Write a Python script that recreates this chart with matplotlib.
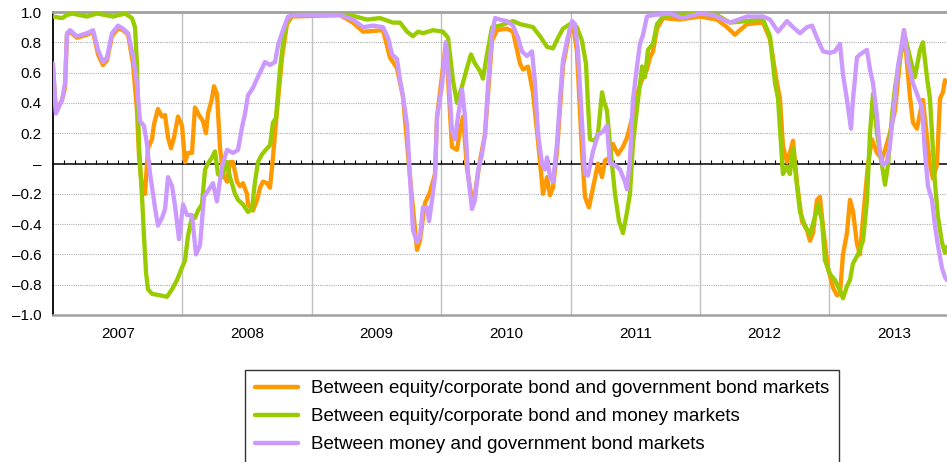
import numpy as np
import matplotlib
matplotlib.use("Agg")
import matplotlib.pyplot as plt

plt.rcParams['font.family'] = ['Liberation Sans', 'DejaVu Sans']

# time in years since 1 Jan 2007
eg_t = [0.000,0.023,0.070,0.093,0.108,0.131,0.185,0.263,0.309,0.348,0.386,0.417,0.456,0.502,0.541,0.580,
        0.618,0.649,0.665,0.688,0.711,0.734,0.765,0.781,0.811,0.842,0.866,0.889,0.912,0.935,0.966,0.997,
        1.020,1.043,1.074,1.097,1.128,1.159,1.182,1.198,1.229,1.244,1.267,1.291,1.314,1.345,1.368,1.391,
        1.422,1.445,1.468,1.499,1.507,1.546,1.577,1.600,1.623,1.654,1.677,1.700,1.716,1.739,1.770,1.808,
        1.847,2.218,2.318,2.396,2.550,2.604,2.658,2.705,2.759,2.813,2.836,2.875,2.913,2.952,2.968,3.037,
        3.083,3.122,3.145,3.169,3.199,3.238,3.261,3.300,3.338,3.393,3.431,3.509,3.555,3.609,3.632,3.671,
        3.709,3.748,3.787,3.818,3.841,3.864,3.895,3.941,3.995,4.018,4.049,4.088,4.111,4.142,4.173,4.212,
        4.243,4.266,4.304,4.327,4.366,4.405,4.436,4.482,4.521,4.560,4.590,4.613,4.637,4.668,4.714,4.845,
        5.000,5.131,5.209,5.270,5.309,5.363,5.487,5.541,5.595,5.618,5.641,5.672,5.695,5.719,5.750,5.788,
        5.827,5.850,5.873,5.904,5.927,5.951,5.989,6.028,6.059,6.082,6.105,6.136,6.159,6.182,6.213,6.236,
        6.260,6.298,6.329,6.368,6.406,6.430,6.468,6.507,6.546,6.577,6.600,6.623,6.646,6.677,6.700,6.723,
        6.754,6.777,6.800,6.831,6.855,6.878,6.893,6.909]
eg_v = [0.62,0.34,0.42,0.50,0.85,0.87,0.83,0.85,0.87,0.72,0.65,0.68,0.84,0.89,0.88,0.85,
        0.66,0.35,0.04,-0.16,-0.20,0.10,0.16,0.26,0.36,0.31,0.32,0.17,0.10,0.17,0.31,0.25,
        0.01,0.07,0.07,0.37,0.32,0.28,0.20,0.33,0.43,0.51,0.46,0.10,-0.07,-0.12,0.01,0.01,
        -0.12,-0.15,-0.13,-0.20,-0.27,-0.31,-0.24,-0.16,-0.12,-0.13,-0.16,0.04,0.20,0.42,0.70,0.92,
        0.97,0.98,0.93,0.87,0.88,0.70,0.63,0.44,-0.09,-0.57,-0.51,-0.26,-0.19,-0.07,0.31,0.80,
        0.11,0.09,0.22,0.31,-0.03,-0.24,-0.20,0.02,0.19,0.81,0.88,0.89,0.87,0.66,0.62,0.64,
        0.47,0.15,-0.20,-0.09,-0.21,-0.16,0.08,0.64,0.89,0.92,0.74,0.08,-0.22,-0.29,-0.16,0.00,
        -0.09,0.02,0.04,0.13,0.06,0.11,0.17,0.32,0.48,0.57,0.62,0.70,0.74,0.89,0.96,0.95,
        0.97,0.95,0.90,0.85,0.88,0.92,0.93,0.82,0.53,0.43,0.12,0.01,0.07,0.15,-0.13,-0.38,
        -0.44,-0.51,-0.46,-0.24,-0.22,-0.42,-0.69,-0.82,-0.87,-0.86,-0.60,-0.46,-0.24,-0.31,-0.53,-0.60,
        -0.36,-0.01,0.16,0.07,0.03,0.09,0.20,0.35,0.68,0.88,0.66,0.44,0.27,0.23,0.33,0.42,
        0.17,-0.01,-0.10,-0.01,0.43,0.47,0.55,0.54]

em_t = [0.000,0.070,0.108,0.147,0.263,0.340,0.464,0.556,0.610,0.634,0.649,0.665,0.688,0.703,0.719,0.734,
        0.765,0.827,0.881,0.920,0.958,0.981,1.020,1.043,1.074,1.097,1.121,1.151,1.175,1.198,1.229,1.252,
        1.275,1.306,1.345,1.368,1.406,1.430,1.468,1.507,1.538,1.561,1.584,1.615,1.654,1.677,1.700,1.723,
        1.754,1.777,1.808,1.847,2.295,2.427,2.527,2.627,2.682,2.736,2.782,2.821,2.859,2.937,3.014,3.053,
        3.091,3.122,3.161,3.199,3.230,3.261,3.300,3.323,3.354,3.393,3.454,3.555,3.609,3.663,3.709,3.764,
        3.818,3.864,3.903,3.941,3.995,4.049,4.088,4.119,4.134,4.150,4.188,4.212,4.243,4.258,4.281,4.304,
        4.343,4.374,4.405,4.436,4.459,4.482,4.521,4.552,4.575,4.598,4.637,4.668,4.714,4.822,5.000,5.131,
        5.232,5.363,5.487,5.541,5.580,5.603,5.641,5.672,5.695,5.719,5.750,5.773,5.811,5.850,5.889,5.912,
        5.943,5.966,6.005,6.043,6.082,6.105,6.136,6.159,6.182,6.221,6.260,6.290,6.314,6.337,6.368,6.406,
        6.430,6.453,6.484,6.507,6.546,6.584,6.623,6.661,6.700,6.723,6.754,6.777,6.816,6.839,6.870,6.893,
        6.909]
em_v = [0.97,0.96,0.98,0.99,0.97,0.99,0.97,0.99,0.96,0.90,0.65,0.11,-0.22,-0.48,-0.72,-0.83,
        -0.86,-0.87,-0.88,-0.83,-0.77,-0.72,-0.64,-0.48,-0.35,-0.36,-0.31,-0.27,-0.04,0.00,0.04,0.08,
        -0.07,-0.09,0.01,-0.09,-0.20,-0.24,-0.27,-0.32,-0.30,-0.12,0.01,0.06,0.10,0.12,0.27,0.30,
        0.62,0.79,0.94,0.98,0.98,0.95,0.96,0.93,0.93,0.87,0.84,0.87,0.86,0.88,0.87,0.83,
        0.55,0.40,0.51,0.63,0.72,0.66,0.61,0.56,0.72,0.90,0.91,0.94,0.92,0.91,0.90,0.84,
        0.77,0.76,0.83,0.89,0.92,0.90,0.81,0.66,0.40,0.16,0.15,0.20,0.47,0.41,0.35,0.13,
        -0.20,-0.38,-0.46,-0.32,-0.20,0.13,0.42,0.64,0.57,0.75,0.79,0.92,0.97,0.98,0.99,0.98,
        0.93,0.94,0.95,0.84,0.53,0.43,-0.07,-0.02,-0.07,0.10,-0.15,-0.32,-0.41,-0.47,-0.35,-0.27,
        -0.38,-0.64,-0.73,-0.77,-0.84,-0.89,-0.81,-0.77,-0.66,-0.60,-0.51,-0.25,0.20,0.46,0.20,-0.01,
        -0.14,-0.01,0.32,0.50,0.70,0.84,0.70,0.57,0.75,0.80,0.57,0.43,-0.13,-0.35,-0.52,-0.59,
        -0.55]

mg_t = [0.000,0.023,0.070,0.093,0.108,0.131,0.185,0.263,0.309,0.348,0.386,0.417,0.456,0.502,0.541,0.580,
        0.618,0.649,0.672,0.703,0.726,0.750,0.773,0.788,0.811,0.842,0.866,0.889,0.920,0.943,0.974,1.005,
        1.036,1.074,1.105,1.136,1.167,1.198,1.236,1.267,1.306,1.345,1.391,1.430,1.461,1.484,1.507,1.546,
        1.577,1.600,1.638,1.677,1.716,1.739,1.777,1.816,1.909,2.218,2.318,2.396,2.473,2.550,2.589,2.620,
        2.658,2.682,2.705,2.736,2.759,2.782,2.813,2.836,2.859,2.890,2.906,2.929,2.952,2.968,3.006,3.037,
        3.053,3.083,3.107,3.130,3.161,3.184,3.207,3.238,3.261,3.284,3.315,3.338,3.362,3.393,3.416,3.454,
        3.509,3.555,3.594,3.624,3.663,3.702,3.725,3.748,3.779,3.802,3.818,3.841,3.864,3.895,3.918,3.941,
        3.972,4.011,4.034,4.057,4.088,4.111,4.134,4.173,4.212,4.250,4.281,4.304,4.343,4.382,4.420,4.436,
        4.459,4.482,4.513,4.536,4.560,4.590,4.637,4.768,4.861,5.000,5.100,5.232,5.363,5.487,5.541,5.603,
        5.672,5.719,5.773,5.827,5.866,5.904,5.951,6.005,6.043,6.082,6.105,6.136,6.167,6.182,6.213,6.236,
        6.290,6.314,6.337,6.368,6.391,6.414,6.445,6.468,6.491,6.530,6.577,6.607,6.646,6.685,6.716,6.739,
        6.762,6.793,6.816,6.839,6.870,6.893,6.909]
mg_v = [0.66,0.33,0.42,0.53,0.86,0.88,0.84,0.86,0.88,0.75,0.67,0.70,0.86,0.91,0.89,0.86,
        0.71,0.53,0.28,0.25,0.13,-0.07,-0.20,-0.29,-0.41,-0.36,-0.30,-0.09,-0.15,-0.28,-0.50,-0.27,
        -0.34,-0.34,-0.60,-0.54,-0.22,-0.18,-0.13,-0.25,-0.02,0.09,0.07,0.09,0.24,0.33,0.45,0.50,
        0.56,0.60,0.67,0.65,0.67,0.78,0.88,0.97,0.98,0.98,0.95,0.90,0.91,0.90,0.83,0.72,
        0.69,0.55,0.44,0.26,-0.09,-0.44,-0.52,-0.48,-0.29,-0.29,-0.38,-0.24,-0.09,0.31,0.51,0.80,
        0.64,0.22,0.16,0.31,0.49,0.31,-0.07,-0.30,-0.24,-0.05,0.06,0.19,0.52,0.85,0.96,0.95,
        0.94,0.91,0.83,0.74,0.71,0.74,0.53,0.20,0.00,-0.04,0.04,-0.09,-0.12,0.13,0.42,0.68,
        0.81,0.94,0.92,0.74,0.28,-0.07,-0.08,0.08,0.19,0.21,0.25,0.00,-0.01,-0.04,-0.12,-0.17,
        0.03,0.42,0.64,0.79,0.85,0.97,0.98,0.99,0.96,0.99,0.98,0.93,0.97,0.97,0.95,0.87,
        0.94,0.90,0.86,0.90,0.91,0.83,0.74,0.73,0.74,0.79,0.59,0.42,0.23,0.42,0.70,0.72,
        0.75,0.62,0.53,0.31,0.07,-0.01,0.01,0.12,0.31,0.64,0.88,0.68,0.53,0.44,0.37,0.07,
        -0.15,-0.24,-0.41,-0.54,-0.69,-0.75,-0.77]

start_year = 2007
years = [2007, 2008, 2009, 2010, 2011, 2012, 2013]
x_end = 2013.909
labels = ["Between equity/corporate bond and government bond markets",
          "Between equity/corporate bond and money markets",
          "Between money and government bond markets"]
colors = ["#FF9900", "#99CC00", "#CC99FF"]

y_ticks = [1.0, 0.8, 0.6, 0.4, 0.2, 0.0, -0.2, -0.4, -0.6, -0.8, -1.0]

def fmt(v):
    if abs(v) < 1e-9:
        return "\u2013"
    s = f"{abs(v):.1f}"
    return ("\u2013" + s) if v < 0 else s

fig = plt.figure(figsize=(9.47, 4.62), dpi=100)
ax = fig.add_axes([53/947, 1-315/462, 1-53/947, (315-12)/462])

series = [(eg_t, eg_v), (em_t, em_v), (mg_t, mg_v)]
for (t, v), lab, c in zip(series, labels, colors):
    ax.plot(np.array(t) + start_year, v, color=c, lw=3.1, label=lab,
            solid_joinstyle='round', solid_capstyle='round', zorder=3)

ax.set_xlim(start_year, x_end)
ax.set_ylim(-1.0, 1.0)

# horizontal dotted grid
for yv in y_ticks:
    if abs(yv) > 1e-9 and abs(yv) < 0.99:
        ax.axhline(yv, color="#b0b0b0", lw=0.8, ls=(0, (1, 1)), zorder=1)
# vertical year grid
for yr in years[1:]:
    ax.axvline(yr, color="#c0c0c0", lw=1.0, zorder=1)

# zero line with monthly ticks
ax.axhline(0, color="black", lw=1.1, zorder=2)
months = start_year + np.arange(1, int((x_end - start_year) * 12) + 1) / 12.0
ax.plot(months, np.zeros_like(months), ls='none', marker=2, ms=3.2, mew=0.8,
        color="black", zorder=2)

ax.set_yticks(y_ticks)
ax.set_yticklabels([fmt(v) for v in y_ticks], fontsize=11)
ax.tick_params(axis='y', length=0, pad=8)

ax.set_xticks([y + 1 for y in years[:-1]] + [start_year])
ax.set_xticklabels([])
ax.tick_params(axis='x', length=0)
ax.set_xticks([y + 0.5 for y in years], minor=True)
ax.set_xticklabels([str(y) for y in years], minor=True, fontsize=11)
ax.tick_params(axis='x', which='minor', length=0, pad=9)

ax.spines['right'].set_visible(False)
ax.spines['left'].set_color('black')
ax.spines['left'].set_linewidth(1.3)
ax.spines['top'].set_color('#a0a0a0')
ax.spines['top'].set_linewidth(2.0)
ax.spines['bottom'].set_color('#a0a0a0')
ax.spines['bottom'].set_linewidth(1.8)

leg = fig.legend(loc='upper left', bbox_to_anchor=(245/947, 1-370/462),
                 fontsize=13.5, frameon=True, fancybox=False, edgecolor='black',
                 handlelength=2.3, handletextpad=0.65, labelspacing=0.58,
                 borderpad=0.55, borderaxespad=0)
leg.get_frame().set_linewidth(1.0)
for line in leg.get_lines():
    line.set_linewidth(3.2)

fig.savefig("out.png", dpi=100)
